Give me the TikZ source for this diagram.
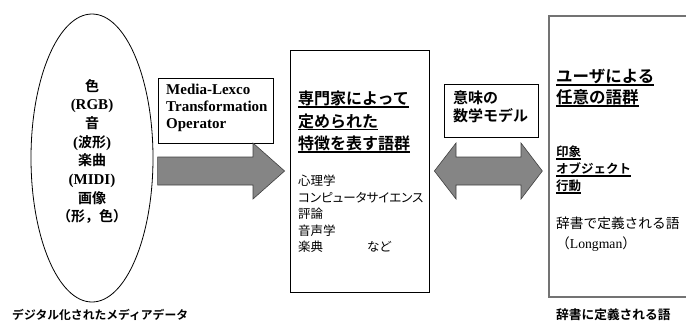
\documentclass[tikz,border=0pt]{standalone}
\usepackage{fontspec}
\setmainfont{Liberation Serif}
\newfontfamily\jpfont{Noto Sans CJK JP}[RawFeature=+palt]
\newfontfamily\jpplain{Noto Sans CJK JP}
\newfontfamily\jpbold{Noto Sans CJK JP Bold}
\usetikzlibrary{shapes.geometric}
\usetikzlibrary{positioning}
\usetikzlibrary{calc}
\newcommand{\ulword}[1]{\setbox0\hbox{#1}\rlap{\rule[-3pt]{\wd0}{1.4pt}}\box0}
\newcommand{\fsz}[2]{\fontsize{#1}{#2}\selectfont}

\begin{document}
\begin{tikzpicture}[
	x=1pt, y=-1pt,
	media/.style = {draw, ellipse, line width=0.8pt, minimum width=122pt, minimum height=288pt, inner sep=0pt},
	box/.style = {draw, line width=0.8pt, inner sep=0pt},
	txt/.style = {inner sep=0pt, align=left, anchor=north west},
	bigarrow/.style = {draw=black!75, fill=black!48, line width=0.6pt, line join=miter}
	]
	\useasboundingbox (0,0) rectangle (686,322);
	\clip (0,0) rectangle (686,322);

	% media data
	\node[media] (media) at (92,158) {};
	\node[align=center, inner sep=0pt, font=\fsz{14}{18.7}] (mediatxt) at ([yshift=6.5pt]media.center)
		{{\jpbold 色}\\ {\bfseries\fsz{15}{18.7}(RGB)}\\ {\jpbold 音}\\ {\bfseries\fsz{15}{18.7}(}{\jpbold 波形}{\bfseries\fsz{15}{18.7})}\\
		 {\jpbold 楽曲}\\ {\bfseries\fsz{15}{18.7}(MIDI)}\\ {\jpbold 画像}\\ {\jpbold （形，色）}};
	\node[anchor=west, inner sep=0pt, font=\jpbold\fsz{11.8}{14}] (mediacap) at (12,315) {デジタル化されたメディアデータ};

	% operator
	\node[box, minimum width=115pt, minimum height=65pt] (op) at (215.5,110.5) {};
	\node[txt, font=\bfseries\fsz{15}{17}] (optxt) at (166,84) {Media-Lexco\\ Transformation\\ Operator};

	% expert words
	\node[box, minimum width=139pt, minimum height=242pt] (expert) at (359.5,171) {};
	\node[txt, font=\jpbold\fsz{16}{22.5}] (experttitle) at (298,91)
		{\ulword{専門家によって}\\ \ulword{定められた}\\ \ulword{特徴を表す語群}};
	\node[txt, font=\jpfont\fsz{12.5}{16.5}] (expertlist) at (298,175)
		{心理学\\ コンピュータサイエンス\\ 評論\\ 音声学\\ \makebox[69pt][l]{楽典}など};

	% model
	\node[box, minimum width=94pt, minimum height=53pt] (model) at (491,110.5) {};
	\node[txt, font=\jpbold\fsz{15}{18}] (modeltxt) at (453,91) {意味の\\ 数学モデル};

	% user words
	\node[box, draw=black!55, line width=1.3pt, minimum width=160pt, minimum height=281pt] (user) at (629,156.5) {};
	\node[txt, font=\jpbold\fsz{16.5}{21}] (usertitle) at (556,69) {\ulword{ユーザによる}\\ \ulword{任意の語群}};
	\node[txt, font=\jpbold\fsz{12.5}{17}] (userlist) at (556,146) {\ulword{印象}\\ \ulword{オブジェクト}\\ \ulword{行動}};
	\node[txt, font=\jpplain\fsz{13.7}{20}] (userdict) at (556,217) {辞書で定義される語\\ （{\rmfamily Longman}）};
	\node[anchor=west, inner sep=0pt, font=\jpbold\fsz{12.7}{15}] (usercap) at (556,315) {辞書に定義される語};

	% arrows
	\coordinate (rtip) at ([xshift=-5pt]expert.west);
	\coordinate (ltip) at ([xshift=5pt]expert.east);
	\coordinate (mtip) at ([xshift=-6pt]user.west |- expert.east);

	\draw[bigarrow] (op.west |- 0,157) -- (253,157) -- (253,143) -- (rtip) -- (253,199) -- (253,185) -- (op.west |- 0,185) -- cycle;
	\draw[bigarrow] (ltip) -- (456,143) -- (456,157) -- (521,157) -- (521,143) -- (mtip)
		-- (521,199) -- (521,185) -- (456,185) -- (456,199) -- cycle;

\end{tikzpicture}
\end{document}
